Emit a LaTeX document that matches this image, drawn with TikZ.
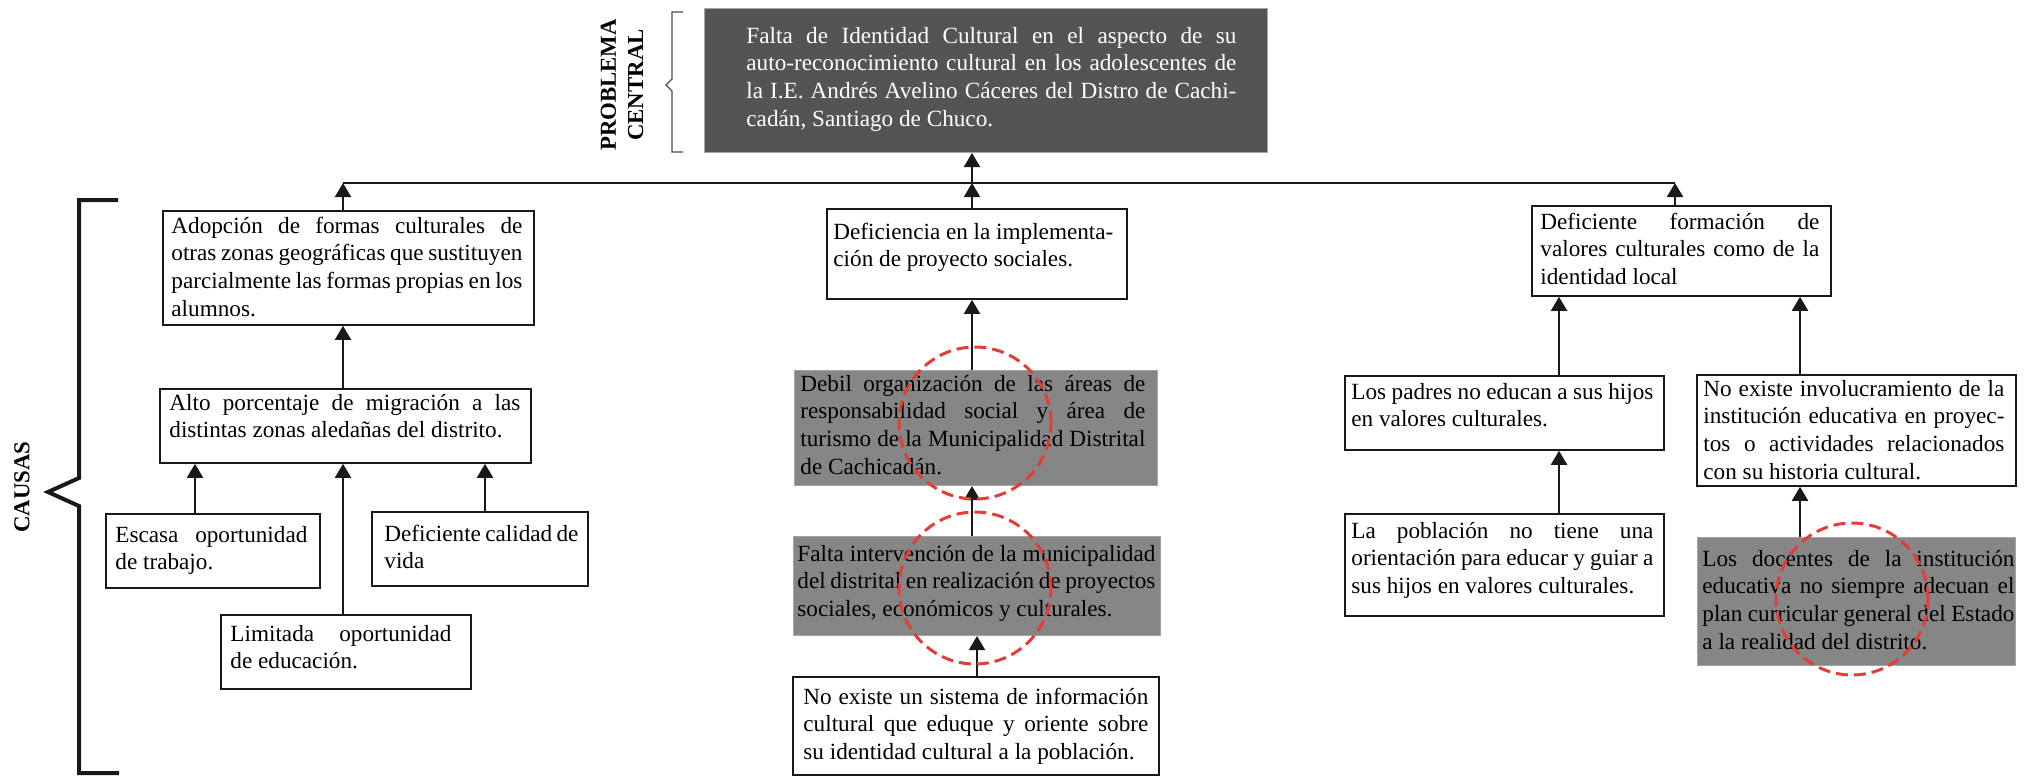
\documentclass[tikz,border=0pt]{standalone}
\usepackage{fontspec}
\setmainfont{Liberation Serif}
\usetikzlibrary{arrows.meta}
\definecolor{darkbox}{RGB}{84,84,84}
\definecolor{midgray}{RGB}{134,134,134}
\definecolor{redc}{RGB}{226,62,56}
\newlength{\jw}
\newcommand{\jl}[1]{{\spaceskip=0pt\xspaceskip=0pt\makebox[\jw][s]{#1}}\\}
\newcommand{\bodysize}{\fontsize{11.6}{13.85}\selectfont}
\begin{document}
\begin{tikzpicture}[x=0.5pt,y=-0.5pt,
  wbox/.style 2 args={draw=black!90, line width=0.9pt, fill=white, inner sep=0,
    minimum width=#1*0.5pt, minimum height=#2*0.5pt, anchor=north west},
  gbox/.style 2 args={fill=midgray, draw=midgray!75!white, line width=0.5pt, inner sep=0,
    minimum width=#1*0.5pt, minimum height=#2*0.5pt, anchor=north west},
  dbox/.style 2 args={fill=darkbox, draw=gray!70, line width=0.5pt, inner sep=0,
    minimum width=#1*0.5pt, minimum height=#2*0.5pt, anchor=north west},
  txt/.style={inner sep=0, text width=#1*0.5pt, align=flush left, font=\bodysize, anchor=base west,
    execute at begin node={\pgfmathsetlength{\jw}{#1*0.5pt}}},
  arr/.style={-{Triangle[length=7pt,width=8pt]}, line width=1pt, draw=black!90},
  barline/.style={line width=1.2pt, draw=black!90},
  bracket/.style={line width=2pt, draw=black!90, line join=miter},
  thinbrace/.style={line width=0.6pt, draw=black!70},
  ring/.style={circle, draw=redc, dash pattern=on 6pt off 3pt, line width=1.5pt,
    minimum size=76pt, inner sep=0},
  lab/.style={rotate=90, align=center, inner sep=0, font=\fontsize{11.4}{13.6}\selectfont\bfseries}
]
\useasboundingbox (0,0) rectangle (2037,776);

% ---------- central problem ----------
\node[dbox={563}{144}] (prob) at (704,8) {};
\node[txt={490}, text=white] (tprob) at (746,43)
  {\jl{Falta de Identidad Cultural en el aspecto de su}\jl{auto-reconocimiento cultural en los adolescentes de}\jl{la I.E. Andrés Avelino Cáceres del Distro de Cachi-}cadán, Santiago de Chuco.};
\node[lab] (pc) at (622,85) {PROBLEMA\\CENTRAL};
\draw[thinbrace] (683,12) -- (672,12) -- (672,79) -- (666,85) -- (672,91) -- (672,152) -- (683,152);

% ---------- causes label ----------
\node[lab] (causas) at (22,487) {CAUSAS};
\draw[bracket] (118,200) -- (79,200) -- (79,478) -- (48,492) -- (79,506) -- (79,773) -- (119,773);

% ---------- left column ----------
\node[wbox={371}{114}] (c1) at (162,210) {};
\node[txt={351}] (t1) at (171,233)
  {\jl{Adopción de formas culturales de}\jl{otras zonas geográficas que sustituyen}\jl{parcialmente las formas propias en los}alumnos.};
\node[wbox={371}{74}] (c1a) at (159,388) {};
\node[txt={351}] (t1a) at (169,410)
  {\jl{Alto porcentaje de migración a las}distintas zonas aledañas del distrito.};
\node[wbox={214}{74}] (c1a1) at (105,513) {};
\node[txt={192}] (t1a1) at (115,542) {\jl{Escasa oportunidad}de trabajo.};
\node[wbox={216}{74}] (c1a3) at (371,511) {};
\node[txt={194}] (t1a3) at (384,541) {\jl{Deficiente calidad de}vida};
\node[wbox={250}{74}] (c1a2) at (220,614) {};
\node[txt={221}] (t1a2) at (230,641) {\jl{Limitada oportunidad}de educación.};

% ---------- middle column ----------
\node[wbox={300}{90}] (c2) at (826,208) {};
\node[txt={280}] (t2) at (833,239) {\jl{Deficiencia en la implementa-}ción de proyecto sociales.};
\node[gbox={363}{115}] (c2a) at (794,370) {};
\node[txt={345}] (t2a) at (800,391)
  {\jl{Debil organización de las áreas de}\jl{responsabilidad social y área de}\jl{turismo de la Municipalidad Distrital}de Cachicadán.};
\node[gbox={367}{99}] (c2b) at (793,536) {};
\node[txt={358}] (t2b) at (797,561)
  {\jl{Falta intervención de la municipalidad}\jl{del distrital en realización de proyectos}sociales, económicos y culturales.};
\node[wbox={366}{98}] (c2c) at (792,676) {};
\node[txt={345}] (t2c) at (803,704)
  {\jl{No existe un sistema de información}\jl{cultural que eduque y oriente sobre}su identidad cultural a la población.};

% ---------- right column ----------
\node[wbox={299}{90}] (c3) at (1531,205) {};
\node[txt={279}] (t3) at (1540,229)
  {\jl{Deficiente formación de}\jl{valores culturales como de la}identidad local};
\node[wbox={319}{74}] (c3a) at (1344,375) {};
\node[txt={302}] (t3a) at (1351,399) {\jl{Los padres no educan a sus hijos}en valores culturales.};
\node[wbox={319}{102}] (c3a1) at (1344,513) {};
\node[txt={302}] (t3a1) at (1351,538)
  {\jl{La población no tiene una}\jl{orientación para educar y guiar a}sus hijos en valores culturales.};
\node[wbox={319}{111}] (c3b) at (1696,374) {};
\node[txt={301}] (t3b) at (1703,396)
  {\jl{No existe involucramiento de la}\jl{institución educativa en proyec-}\jl{tos o actividades relacionados}con su historia cultural.};
\node[gbox={318}{128}] (c3b1) at (1697,537) {};
\node[txt={312}] (t3b1) at (1702,566)
  {\jl{Los docentes de la institución}\jl{educativa no siempre adecuan el}\jl{plan curricular general del Estado}a la realidad del distrito.};

% ---------- connector guides ----------
\coordinate (barL) at (343,183);
\coordinate (barC) at (972,183);
\coordinate (barR) at (1675,183);
\coordinate (xa) at (195,0);
\coordinate (xb) at (343,0);
\coordinate (xc) at (485,0);
\coordinate (xm) at (972,0);
\coordinate (xn) at (977,0);
\coordinate (xp) at (1559,0);
\coordinate (xq) at (1800,0);

\draw[barline] (barL) -- (barR);
\draw[arr] (barC) -- (prob.south -| barC);
\draw[arr] (c1.north -| barL) -- (barL);
\draw[arr] (c2.north -| barC) -- (barC);
\draw[arr] (c3.north -| barR) -- (barR);

\draw[arr] (c1a.north -| xb) -- (c1.south -| xb);
\draw[arr] (c1a1.north -| xa) -- (c1a.south -| xa);
\draw[arr] (c1a2.north -| xb) -- (c1a.south -| xb);
\draw[arr] (c1a3.north -| xc) -- (c1a.south -| xc);

\draw[arr] (c2a.north -| xm) -- (c2.south -| xm);
\draw[arr] (c2b.north -| xm) -- (c2a.south -| xm);
\draw[arr] (c2c.north -| xn) -- (c2b.south -| xn);

\draw[arr] (c3a.north -| xp) -- (c3.south -| xp);
\draw[arr] (c3a1.north -| xp) -- (c3a.south -| xp);
\draw[arr] (c3b.north -| xq) -- (c3.south -| xq);
\draw[arr] (c3b1.north -| xq) -- (c3b.south -| xq);

% ---------- red dashed rings ----------
\node[ring] (r1) at (975,423) {};
\node[ring] (r2) at (975,588) {};
\node[ring] (r3) at (1852,599) {};
\end{tikzpicture}
\end{document}
